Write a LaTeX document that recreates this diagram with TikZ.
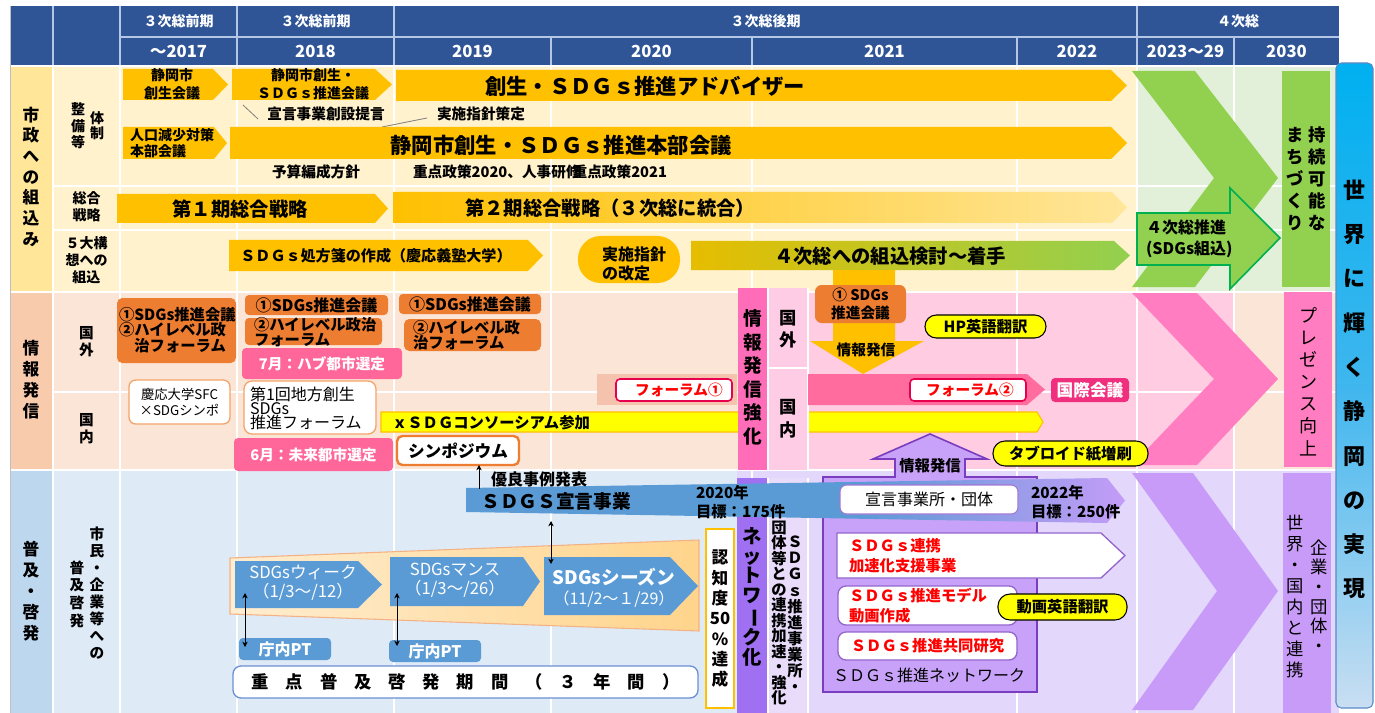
\documentclass[tikz,border=0pt]{standalone}
\usepackage{fontspec}
\setmainfont{Noto Sans CJK JP}
\usepackage{graphicx}
\usetikzlibrary{arrows.meta}
\newcommand\fs[2]{\fontsize{#1}{#2}\selectfont}
\makeatletter
\def\vt#1{\vt@a#1\@nil}
\def\vt@a#1#2\@nil{#1\ifx\relax#2\relax\expandafter\@gobble\else\expandafter\@firstofone\fi{\\\vt@a#2\@nil}}
\def\spaced#1#2{\sp@a{#1}#2\@nil}
\def\sp@a#1#2#3\@nil{\makebox[#1]{#2}\ifx\relax#3\relax\expandafter\@gobble\else\expandafter\@firstofone\fi{\sp@a{#1}#3\@nil}}
\makeatother
\definecolor{hdr}{HTML}{2F5597}
\definecolor{hdrline}{HTML}{B4C7E7}
\definecolor{gold}{HTML}{FFC000}
\definecolor{goldpale}{HTML}{FFE69A}
\definecolor{olive}{HTML}{E6BD00}
\definecolor{grn}{HTML}{92D050}
\definecolor{dgrn}{HTML}{00B050}
\definecolor{grnbg}{HTML}{E2F0D9}
\definecolor{s1lab}{HTML}{FFE699}
\definecolor{s1bg}{HTML}{FFF2CC}
\definecolor{s2lab}{HTML}{F8CBAD}
\definecolor{s2bg}{HTML}{FBE5D6}
\definecolor{s3lab}{HTML}{BDD7EE}
\definecolor{s3bg}{HTML}{DEEBF7}
\definecolor{org}{HTML}{ED7D31}
\definecolor{orgline}{HTML}{F4A46A}
\definecolor{pnk}{HTML}{FF679B}
\definecolor{pnkbg}{HTML}{FFCCE1}
\definecolor{pnkcol}{HTML}{FF6DB9}
\definecolor{pnklight}{HTML}{FFCCE6}
\definecolor{pnkband}{HTML}{FF6C9D}
\definecolor{salmon}{HTML}{F5C2AE}
\definecolor{crim}{HTML}{E6004E}
\definecolor{intl}{HTML}{F0307E}
\definecolor{pchev}{HTML}{FF7DC0}
\definecolor{ylw}{HTML}{FFFF00}
\definecolor{lav}{HTML}{E3D7FB}
\definecolor{lavcol}{HTML}{E8DCFA}
\definecolor{pur}{HTML}{C99BF8}
\definecolor{purbox}{HTML}{C8A2F8}
\definecolor{purline}{HTML}{7A3DC0}
\definecolor{netcol}{HTML}{A070F2}
\definecolor{bblue}{HTML}{5B9BD5}
\definecolor{bpur}{HTML}{C49CF7}
\definecolor{taperL}{HTML}{FFEDD0}
\definecolor{taperR}{HTML}{FFD48C}
\definecolor{taperline}{HTML}{F4B183}
\definecolor{boxblue}{HTML}{6A8FD3}
\definecolor{cyanT}{HTML}{00B0F0}
\definecolor{cyanM}{HTML}{3FB6EE}
\definecolor{cyanB}{HTML}{C9DEF2}
\definecolor{barline}{HTML}{5A8AC6}
\definecolor{redtxt}{HTML}{FF0000}
\pgfdeclarehorizontalshading{bandshade}{100bp}{color(0bp)=(bblue); color(25bp)=(bblue); color(55bp)=(bblue); color(75bp)=(bpur); color(100bp)=(bpur)}
\newcommand\parr[6][]{\path[#1] (#2,#3) -- ({#4-#6},#3) -- (#4,{(#3+#5)/2}) -- ({#4-#6},#5) -- (#2,#5) -- cycle;}
\newcommand\bx[7][]{\node[#1, minimum width={(#5-#3)*0.75pt}, minimum height={(#6-#4)*0.75pt}] (#2) at ({(#3+#5)/2},{(#4+#6)/2}) {#7};}
\begin{document}
\begin{tikzpicture}[x=0.75pt,y=-0.75pt,
 every node/.style={inner sep=0pt,outer sep=0pt,align=center,font=\bfseries},
 grid/.style={white,line width=1.5pt},
 hl/.style={hdrline,line width=1pt},
 >={Stealth[length=4pt,width=4pt]}]
\useasboundingbox (0,0) rectangle (1375,713);
\fill[white] (0,0) rectangle (1375,713);
% ---------- header
\fill[hdr] (10,6) rectangle (1339,65);
\draw[hl] (120,37) -- (1339,37);
\foreach \x in {53,120,237,394,1137} \draw[hl] (\x,6) -- (\x,65);
\foreach \x in {551,752,1017,1234} \draw[hl] (\x,37) -- (\x,65);
\begin{scope}[every node/.append style={text=white,font=\bfseries\fs{10.5}{12}}]
\node (p1) at (178.5,21.5) {３次総前期};
\node (p2) at (315.5,21.5) {３次総前期};
\node (p3) at (765.5,21.5) {３次総後期};
\node (p4) at (1238,21.5) {４次総};
\end{scope}
\begin{scope}[every node/.append style={text=white,font=\bfseries\fs{12.5}{14}}]
\node (y1) at (178.5,51) {～2017};
\node (y2) at (315.5,51) {2018};
\node (y3) at (472.5,51) {2019};
\node (y4) at (651.5,51) {2020};
\node (y5) at (884.5,51) {2021};
\node (y6) at (1077,51) {2022};
\node (y7) at (1185.5,51) {2023～29};
\node (y8) at (1286.5,51) {2030};
\end{scope}
% ---------- backgrounds
\fill[s1lab] (10,67) rectangle (53,292);
\fill[s1bg] (53,67) rectangle (1339,292);
\fill[grnbg] (1137,67) rectangle (1339,292);
\fill[s2lab] (10,292) rectangle (53,470);
\fill[s2bg] (53,292) rectangle (1339,470);
\fill[pnkbg] (768,292) rectangle (1234,470);
\fill[s3lab] (10,470) rectangle (53,713);
\fill[s3bg] (53,470) rectangle (1339,713);
\fill[lav] (737,470) rectangle (1339,713);
\foreach \x in {53,120,237,394,551,752,1017,1137,1234} \draw[grid] (\x,66) -- (\x,713);
\draw[grid] (10,66.5) -- (1339,66.5);
\draw[grid] (53,186) -- (1339,186);
\draw[grid] (53,230) -- (1339,230);
\draw[grid] (10,292) -- (1339,292);
\draw[grid] (53,392) -- (1339,392);
\draw[grid] (10,470) -- (1339,470);
\draw[gray!50,line width=0.6pt] (10,6) -- (10,713);
% ---------- row labels
\node[font=\bfseries\fs{12.5}{15.5}] (l1) at (31,176.5) {\vt{市政への組込み}};
\node[font=\bfseries\fs{10.5}{11.3}] (l1a) at (97,126) {\vt{体制}};
\node[font=\bfseries\fs{10.5}{12.5}] (l1b) at (78,126) {\vt{整備等}};
\node[font=\bfseries\fs{10.5}{12.75}] (l1c) at (86.5,206.5) {総合\\戦略};
\node[font=\bfseries\fs{10.5}{12.75}] (l1d) at (86.5,260) {５大構\\想への\\組込};
\node[font=\bfseries\fs{12.5}{15.75}] (l2) at (31,379.5) {\vt{情報発信}};
\node[font=\bfseries\fs{11}{12.75}] (l2a) at (86.5,341.5) {\vt{国外}};
\node[font=\bfseries\fs{11}{12.75}] (l2b) at (86.5,428.5) {\vt{国内}};
\node[font=\bfseries\fs{12.5}{15.75}] (l3) at (31,591) {\vt{普及・啓発}};
\node[font=\bfseries\fs{11}{12.75}] (l3a) at (97,593) {\vt{市民・企業等への}};
\node[font=\bfseries\fs{11}{13.25}] (l3b) at (77,594) {\vt{普及啓発}};
% ---------- section 1
\parr[fill=gold]{123}{69}{228}{100}{15}
\node[font=\bfseries\fs{10.5}{13.5}] (a1) at (172,84.5) {静岡市\\創生会議};
\parr[fill=gold]{232}{69}{392}{100}{17}
\node[font=\bfseries\fs{10.5}{13.5}] (a2) at (313,84.5) {静岡市創生・\\ＳＤＧｓ推進会議};
\parr[fill=gold]{396}{70}{1127}{101}{16}
\node[font=\bfseries\fs{16}{18}] (a3) at (645,86) {創生・ＳＤＧｓ推進アドバイザー};
\node[font=\bfseries\fs{11}{13}] (t1) at (326,114) {宣言事業創設提言};
\node[font=\bfseries\fs{11}{13}] (t2) at (481,114) {実施指針策定};
\draw[gray,line width=0.6pt] (243,105) -- (258,119);
\draw[gray,line width=0.6pt] (382,127) -- (427,118);
\parr[fill=gold]{123}{127}{227}{159}{13}
\node[font=\bfseries\fs{10.5}{11.5},anchor=west,align=left] (a4) at (130,143) {人口減少対策\\本部会議};
\parr[fill=gold]{230}{127}{1127}{159}{16}
\node[font=\bfseries\fs{16}{18}] (a5) at (561,145) {静岡市創生・ＳＤＧｓ推進本部会議};
\node[font=\bfseries\fs{11}{13}] (t3) at (316,172) {予算編成方針};
\node[font=\bfseries\fs{11}{13},anchor=west] (t4) at (413,172) {重点政策2020、人事研修};
\node[font=\bfseries\fs{11}{13},anchor=east] (t5) at (667,172) {重点政策2021};
\parr[fill=gold]{117}{194}{388}{223}{13}
\node[font=\bfseries\fs{14.5}{16}] (a6) at (240,209) {第１期総合戦略};
\parr[left color=gold,right color=goldpale]{393}{192}{1127}{223}{15}
\node[font=\bfseries\fs{14.5}{16},anchor=west] (a7) at (465,208) {第２期総合戦略（３次総に統合）};
\parr[fill=gold]{229}{240}{543}{271}{15}
\node[font=\bfseries\fs{11.3}{13}] (a8) at (376,256) {ＳＤＧｓ処方箋の作成（慶応義塾大学）};
\bx[fill=gold,rounded corners=17pt]{a9}{578}{236}{680}{283}{}
\node[font=\bfseries\fs{12}{14.5},anchor=west,align=left] (a9t) at (602,264) {実施指針\\の改定};
\parr[left color=olive,right color=grn]{691}{241}{1130}{270}{16}
\node[font=\bfseries\fs{14.5}{16}] (a10) at (890,256) {４次総への組込検討～着手};
\fill[gold] (833,270) -- (895,270) -- (895,341) -- (924,341) -- (863,374) -- (810,341) -- (833,341) -- cycle;
% green
\fill[grn] (1132,71) -- (1195,71) -- (1278,178) -- (1195,287) -- (1132,287) -- (1214,178) -- cycle;
\fill[grn] (1282,71) rectangle (1330,287);
\node[font=\bfseries\fs{13}{16.5}] (g1) at (1317,179) {\vt{持続可能な}};
\node[font=\bfseries\fs{13}{16.5}] (g2) at (1295,179) {\vt{まちづくり}};
\path[fill=grn,draw=dgrn,line width=1.2pt] (1137,213) -- (1230,213) -- (1230,188) -- (1280,238) -- (1230,289) -- (1230,265) -- (1137,265) -- cycle;
\node[font=\bfseries\fs{12}{16},anchor=west,align=left] (g3) at (1146,239) {４次総推進\\(SDGs組込)};
% ---------- section 2
\bx[fill=org,rounded corners=4pt]{b1}{117}{298}{236}{363}{}
\node[font=\bfseries\fs{11.5}{11.5},anchor=west,align=left] (b1t) at (119,330) {①SDGs推進会議\\②ハイレベル政\\　治フォーラム};
\bx[fill=org,rounded corners=3pt,font=\bfseries\fs{12}{13}]{b2}{245}{295}{388}{315}{①SDGs推進会議}
\bx[fill=org,rounded corners=3pt]{b3}{245}{318}{382}{345}{}
\node[font=\bfseries\fs{11.5}{11},anchor=west,align=left] (b3t) at (254,332) {②ハイレベル政治\\フォーラム};
\bx[fill=pnk,rounded corners=3pt,text=white,font=\bfseries\fs{11}{13}]{b4}{242}{348}{402}{379}{7月：ハブ都市選定}
\bx[fill=white,draw=orgline,line width=1pt,rounded corners=5pt,font=\fs{10}{12.5}]{b5}{129}{380}{230}{424}{慶応大学SFC\\×SDGシンポ}
\bx[fill=white,draw=orgline,line width=1pt,rounded corners=6pt]{b6}{244}{381}{376}{434}{}
\node[font=\fs{12}{10.5},anchor=west,align=left] (b6t) at (250,408) {第1回地方創生\\SDGs\\推進フォーラム};
\bx[fill=pnk,rounded corners=3pt,text=white,font=\bfseries\fs{11}{13}]{b7}{234}{438}{393}{471}{6月：未来都市選定}
\bx[fill=org,rounded corners=3pt,font=\bfseries\fs{12}{13}]{b8}{399}{294}{541}{314}{①SDGs推進会議}
\bx[fill=org,rounded corners=4pt]{b9}{404}{319}{541}{351}{}
\node[font=\bfseries\fs{11.5}{11},anchor=west,align=left] (b9t) at (413,335) {②ハイレベル政\\治フォーラム};
\path[fill=ylw,draw=gold,line width=0.8pt] (381,412) -- (1037,412) -- (1043,422) -- (1037,432) -- (381,432) -- cycle;
\node[font=\bfseries\fs{11.5}{13},anchor=west] (yb) at (392,422.5) {ｘＳＤＧコンソーシアム参加};
\bx[fill=white,draw=org,line width=1.8pt,rounded corners=4pt,font=\bfseries\fs{12.5}{14}]{b10}{397}{436}{519}{465}{シンポジウム}
\fill[salmon] (597,374) rectangle (737,405);
\bx[fill=white,draw=crim,line width=1.2pt,rounded corners=3pt]{f1}{616}{379}{732}{401}{}
\node[text=redtxt,font=\bfseries\fs{11}{13}] (f1t) at (679,390) {フォーラム①};
\fill[pnkcol] (738,288) rectangle (768,470);
\node[font=\bfseries\fs{14}{17.6}] (c1) at (753,377.5) {\vt{情報発信強化}};
\fill[pnklight] (768,288) rectangle (808,470);
\draw[white,line width=1.2pt] (768,288) -- (768,470) (768,368) -- (808,368) (808,288) -- (808,470);
\node[font=\bfseries\fs{13}{16.5}] (c2) at (788,329) {\vt{国外}};
\node[font=\bfseries\fs{13}{17}] (c3) at (788,418.5) {\vt{国内}};
\path[fill=pnkband] (808,374) -- (1027,374) -- (1045,389.5) -- (1027,405) -- (808,405) -- cycle;
\bx[fill=white,draw=crim,line width=1.2pt,rounded corners=3pt]{f2}{910}{379}{1026}{401}{}
\node[text=redtxt,font=\bfseries\fs{11}{13}] (f2t) at (970,390) {フォーラム②};
\bx[fill=intl,rounded corners=3pt,text=white,font=\bfseries\fs{12.5}{14}]{kk}{1051}{378}{1129}{402}{国際会議}
\bx[fill=org,rounded corners=5pt,font=\bfseries\fs{11}{14}]{o1}{815}{285}{906}{323}{① SDGs\\推進会議}
\node[font=\bfseries\fs{11}{13}] (jh1) at (866,350) {情報発信};
\bx[fill=ylw,draw=black,line width=0.8pt,rounded corners=8.5pt,font=\bfseries\fs{11.5}{13}]{hp}{925}{315}{1046}{338}{HP英語翻訳}
\fill[pchev] (1132,293) -- (1197,293) -- (1278,379) -- (1197,465) -- (1132,465) -- (1214,379) -- cycle;
\fill[pchev] (1284,292) rectangle (1332,467);
\node[font=\fs{13.5}{16.6}] (pv) at (1308,381.5) {\vt{プレゼンス向上}};
\bx[fill=ylw,draw=black,line width=0.8pt,rounded corners=9pt,font=\bfseries\fs{11.5}{13}]{tb}{993}{441}{1148}{466}{タブロイド紙増刷}
% ---------- section 3
\fill[netcol] (737,478) rectangle (767,713);
\node[font=\bfseries\fs{14.5}{14.8}] (nw) at (752,597) {\vt{ネットワ{\rotatebox[origin=c]{-90}{ー}}ク化}};
\fill[lavcol] (768,478) rectangle (808,713);
\draw[white,line width=1.2pt] (768,478) -- (768,713) (808,478) -- (808,713);
\node[font=\bfseries\fs{11.5}{12.1}] (n1) at (795,614.5) {\vt{ＳＤＧｓ推進事業所・}};
\node[font=\bfseries\fs{11.5}{11.6}] (n2) at (779,613) {\vt{団体等との連携加速・強化}};
\path[fill=purbox,draw=purline,line width=1.2pt] (823,692) -- (823,477) -- (895,477) -- (895,459) -- (873,459) -- (930,434) -- (987,459) -- (965,459) -- (965,477) -- (1037,477) -- (1037,692) -- cycle;
\node[font=\bfseries\fs{11.5}{13}] (jh2) at (930,466) {情報発信};
\shade[shading=bandshade] (466,488) -- (1107,478) -- (1125,500.5) -- (1107,523) -- (466,512) -- cycle;
\node[font=\bfseries\fs{14}{16}] (sd) at (556,501) {ＳＤＧＳ宣言事業};
\node[font=\bfseries\fs{11.5}{14.5},anchor=west,align=left] (g20) at (696,502) {2020年\\目標：175件};
\node[font=\bfseries\fs{12}{14}] (yr) at (539,479) {優良事例発表};
\coordinate (yrA) at (479,489);
\draw[->,line width=0.6pt] (yrA) -- (yrA |- b10.south);
\bx[fill=white,draw=purline!70,line width=0.8pt,rounded corners=5pt,font=\fs{12}{14}]{sj}{840}{485}{1018}{514}{宣言事業所・団体}
\node[font=\bfseries\fs{11.5}{14.5},anchor=west,align=left] (g22) at (1031,502) {2022年\\目標：250件};
\path[fill=white,draw=purline!80,line width=1pt] (837,533) -- (1101,533) -- (1125,555.5) -- (1101,578) -- (837,578) -- cycle;
\node[text=redtxt,font=\bfseries\fs{11.5}{15},anchor=west,align=left] (r1) at (849,556) {ＳＤＧｓ連携\\加速化支援事業};
\bx[fill=white,draw=purline!80,line width=1pt,rounded corners=6pt]{r2b}{838}{586}{1017}{625}{}
\node[text=redtxt,font=\bfseries\fs{11.5}{15},anchor=west,align=left] (r2) at (849,605.5) {ＳＤＧｓ推進モデル\\動画作成};
\bx[fill=white,draw=purline!80,line width=1pt,rounded corners=6pt,text=redtxt,font=\bfseries\fs{11.5}{13}]{r3}{838}{632}{1017}{660}{ＳＤＧｓ推進共同研究}
\node[font=\fs{12}{14}] (nwk) at (929,675) {ＳＤＧｓ推進ネットワーク};
\bx[fill=ylw,draw=black,line width=0.8pt,rounded corners=9pt,font=\bfseries\fs{11.5}{13}]{dv}{998}{594}{1127}{620}{動画英語翻訳}
\fill[pur] (1132,473) -- (1193,473) -- (1278,591) -- (1193,710) -- (1132,710) -- (1217,591) -- cycle;
\fill[pur] (1283,473) rectangle (1331,713);
\node[font=\fs{13}{14.7}] (k1) at (1319,596) {\vt{企業・団体・}};
\node[font=\fs{13}{15.75}] (k2) at (1295,596.5) {\vt{世界・国内と連携}};
% campaign band
\shadedraw[left color=taperL,right color=taperR,draw=taperline,line width=0.8pt] (230,558) -- (699,540) -- (699,631) -- (230,614) -- cycle;
\parr[fill=bblue]{235}{561}{382}{608}{24}
\node[text=white,font=\fs{12.5}{14.5}] (w1) at (303,583) {SDGsウィーク\\（1/3～/12）};
\parr[fill=bblue]{390}{557}{540}{606}{17}
\node[text=white,font=\fs{12.5}{14.5}] (w2) at (455,580) {SDGsマンス\\（1/3～/26）};
\parr[fill=bblue]{544}{557}{698}{615}{28}
\node[text=white,font=\bfseries\fs{14}{16}] (w3a) at (614,577) {SDGsシーズン};
\node[text=white,font=\fs{12}{14}] (w3b) at (614,599) {（11/2～１/29）};
\bx[fill=bblue,rounded corners=3pt,text=white,font=\bfseries\fs{12}{14}]{pt1}{239}{638}{331}{660}{庁内PT}
\bx[fill=bblue,rounded corners=3pt,text=white,font=\bfseries\fs{12}{14}]{pt2}{389}{640}{481}{662}{庁内PT}
\coordinate (d1a) at (245,593); \coordinate (d1b) at (245,647);
\coordinate (d2a) at (397,593); \coordinate (d2b) at (397,646);
\coordinate (d3a) at (551,521); \coordinate (d3b) at (551,564);
\draw[<->,line width=0.6pt] (d1a) -- (d1b);
\draw[<->,line width=0.6pt] (d2a) -- (d2b);
\draw[<->,line width=0.6pt] (d3a) -- (d3b);
\bx[fill=white,draw=boxblue,line width=1pt,rounded corners=6pt,font=\bfseries\fs{13}{15}]{kk3}{233}{666}{698}{698}{\spaced{25.65pt}{重点普及啓発期間（３年間）}}
\bx[fill=white,draw=gold,line width=1.8pt]{nc}{706}{529}{734}{708}{}
\node[font=\bfseries\fs{12.5}{15.25}] (nct) at (720,619) {\vt{認知度{50}{\%}達成}};
% ---------- right bar
\shadedraw[top color=cyanT,bottom color=cyanB,middle color=cyanM,draw=barline,line width=0.8pt,rounded corners=4pt] (1336,63) rectangle (1373,708);
\node[font=\bfseries\fs{16.5}{33.2}] (wb) at (1354.5,389.5) {\vt{世界に輝く静岡の実現}};
\end{tikzpicture}
\end{document}
